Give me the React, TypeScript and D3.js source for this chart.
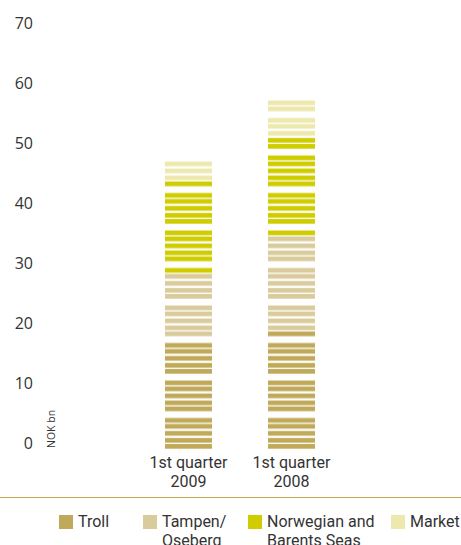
import * as d3 from 'd3'
import React from 'react'

const categories = ['1st quarter\n2009', '1st quarter\n2008']
const troll = [18.2, 19.7]
const tampen = [11.0, 15.8]
const norwegian = [15.5, 16.5]
const market = [3.3, 6.3]
const yTicks = [0, 10, 20, 30, 40, 50, 60, 70]

const series = [
  { key: 'troll', label: ['Troll'], color: '#c0aa5a', values: troll },
  { key: 'tampen', label: ['Tampen/', 'Oseberg'], color: '#d9cb9b', values: tampen },
  { key: 'norwegian', label: ['Norwegian and', 'Barents Seas'], color: '#cfcc00', values: norwegian },
  { key: 'market', label: ['Market'], color: '#ede9ae', values: market },
]

const W = 461, H = 545
const TEXT = '#333'
const numFont = '"Open Sans", sans-serif'
const labFont = 'Roboto, sans-serif'

// stripe pattern (5 bands then a gap) used to cut the bars
const period = 37.5
const bandOffsets = [6.5, 12.5, 19.5, 26.5, 32.5]
const bandH = 4.7

export default function App() {
  const
    y = d3.scaleLinear().domain([0, 70]).range([449, 29]),
    x = d3.scaleBand().domain(categories).range([165, 315]).paddingInner(56 / 103).paddingOuter(0),
    rows = categories.map((c, i) => {
      const r: any = { cat: c }
      series.forEach(s => { r[s.key] = s.values[i] })
      return r
    }),
    stacked = d3.stack().keys(series.map(s => s.key))(rows)

  const legendX = [59, 143, 248, 391]

  return (
    <svg width={W} height={H} style={{ position: 'absolute', left: 0, top: 0 }}>
      <defs>
        <pattern id='stripePat' patternUnits='userSpaceOnUse' x={0} y={y(0) - period} width={W} height={period}>
          {bandOffsets.map((o, i) => <rect key={i} x={0} y={o} width={W} height={bandH} fill='#fff' />)}
        </pattern>
        <mask id='stripes' maskUnits='userSpaceOnUse' x={0} y={0} width={W} height={H}>
          <rect x={0} y={0} width={W} height={H} fill='url(#stripePat)' />
        </mask>
      </defs>

      {yTicks.map(t => (
        <text key={t} x={33} y={y(t)} textAnchor='end' fontFamily={numFont} fontSize={16} fill={TEXT}>{t}</text>
      ))}
      <text transform={`translate(55,${y(0) - 1}) rotate(-90)`} fontFamily={numFont} fontSize={10.5} fill={TEXT}>NOK bn</text>

      <g mask='url(#stripes)'>
        {stacked.map((layer, li) => layer.map((d, i) => (
          <rect key={`${li}-${i}`} x={x(categories[i])} width={x.bandwidth()}
            y={y(d[1])} height={y(d[0]) - y(d[1])} fill={series[li].color} />
        )))}
      </g>

      {categories.map(c => c.split('\n').map((line, j) => (
        <text key={c + j} x={x(c)! + x.bandwidth() / 2} y={468 + j * 19} textAnchor='middle'
          fontFamily={labFont} fontSize={16} fill={TEXT}>{line}</text>
      )))}

      <line x1={0} x2={W} y1={497.5} y2={497.5} stroke='#bfa94e' strokeWidth={1.2} />

      {series.map((s, i) => (
        <g key={s.key}>
          <rect x={legendX[i]} y={515} width={14} height={14} fill={s.color} />
          {s.label.map((l, j) => (
            <text key={j} x={legendX[i] + 19} y={527 + j * 19} fontFamily={labFont} fontSize={16} fill={TEXT}>{l}</text>
          ))}
        </g>
      ))}
    </svg>
  )
}
